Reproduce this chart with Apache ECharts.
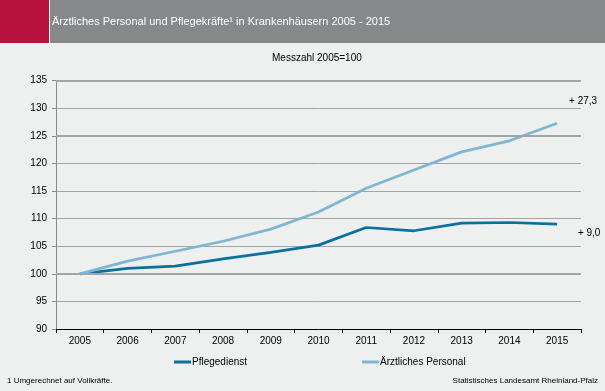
<!DOCTYPE html>
<html><head><meta charset="utf-8">
<script src="https://cdn.jsdelivr.net/npm/echarts@6/dist/echarts.min.js"></script>
<style>html,body{margin:0;padding:0;background:#eeefef}#c{width:605px;height:391px}</style>
</head><body><div id="c"></div>
<script>
const years = ['2005','2006','2007','2008','2009','2010','2011','2012','2013','2014','2015'];
const pflegedienst = [100, 101.0, 101.4, 102.7, 103.9, 105.2, 108.4, 107.8, 109.2, 109.3, 109.0];
const aerztlich = [100, 102.3, 104.1, 105.9, 108.1, 111.2, 115.5, 118.8, 122.1, 124.1, 127.3];
const yTicks = [90, 95, 100, 105, 110, 115, 120, 125, 130, 135];
const thickLines = [100, 125, 135];
const ff = 'Liberation Sans, Arial, sans-serif';
const chart = echarts.init(document.getElementById('c'));
chart.setOption({
  backgroundColor: '#eeefef',
  animation: false,
  textStyle: {fontFamily: ff},
  graphic: [
    {type:'rect', shape:{x:0,y:0,width:605,height:43}, style:{fill:'#878889'}, silent:true},
    {type:'rect', shape:{x:0,y:0,width:49,height:43}, style:{fill:'#b5123e'}, silent:true},
    {type:'rect', shape:{x:49,y:0,width:1,height:43}, style:{fill:'#ffffff'}, silent:true},
    {type:'text', left:52, top:16, style:{text:'Ärztliches Personal und Pflegekräfte¹ in Krankenhäusern 2005 - 2015', fill:'#ffffff', font:'11px '+ff}},
    {type:'text', left:272, top:53, style:{text:'Messzahl 2005=100', fill:'#000', font:'10px '+ff}},
    {type:'text', left:7, bottom:6, style:{text:'1 Umgerechnet auf Vollkräfte.', fill:'#000', font:'8px '+ff}},
    {type:'text', right:7, bottom:6, style:{text:'Statistisches Landesamt Rheinland-Pfalz', fill:'#000', font:'8px '+ff, align:'right'}}
  ],
  grid: {left:56, right:24, top:80.7, bottom:62, containLabel:false},
  legend: {
    left:169, top:352, itemGap:115, itemWidth:17, itemHeight:3, icon:'rect',
    textStyle:{fontSize:10, color:'#000', fontFamily:ff, padding:[0,0,0,-4]},
    data:['Pflegedienst','Ärztliches Personal']
  },
  xAxis: {
    type:'category', data:years, boundaryGap:true,
    axisLine:{lineStyle:{color:'#000', width:1}},
    axisTick:{show:true, length:4, lineStyle:{color:'#000'}},
    axisLabel:{color:'#000', fontSize:10, margin:7, fontFamily:ff}
  },
  yAxis: {
    type:'value', min:90, max:135, interval:5,
    axisLine:{show:true, lineStyle:{color:'#888', width:1}},
    axisTick:{show:true, length:4, lineStyle:{color:'#888'}},
    axisLabel:{color:'#000', fontSize:10, margin:9, fontFamily:ff},
    splitLine:{lineStyle:{color:'#a4a4a4', width:1}}
  },
  series: [
    {name:'Pflegedienst', type:'line', data:pflegedienst, symbol:'none', smooth:false,
      lineStyle:{color:'#0a70a0', width:2.7}, itemStyle:{color:'#0a70a0'}, z:3,
      markLine:{silent:true, symbol:'none', label:{show:false}, animation:false,
        lineStyle:{color:'#a4a4a4', width:2, type:'solid'},
        data: thickLines.map(v=>({yAxis:v}))},
      markPoint:{silent:true, symbolSize:0, data:[{coord:['2015', 109.0], label:{show:true, formatter:'+ 9,0', color:'#000', fontSize:10, fontFamily:ff, offset:[32,9]}}]}
    },
    {name:'Ärztliches Personal', type:'line', data:aerztlich, symbol:'none', smooth:false,
      lineStyle:{color:'#7db7d3', width:2.7}, itemStyle:{color:'#7db7d3'}, z:3,
      markPoint:{silent:true, symbolSize:0, data:[{coord:['2015', 127.3], label:{show:true, formatter:'+ 27,3', color:'#000', fontSize:10, fontFamily:ff, offset:[26,-22]}}]}
    }
  ]
});
</script></body></html>
